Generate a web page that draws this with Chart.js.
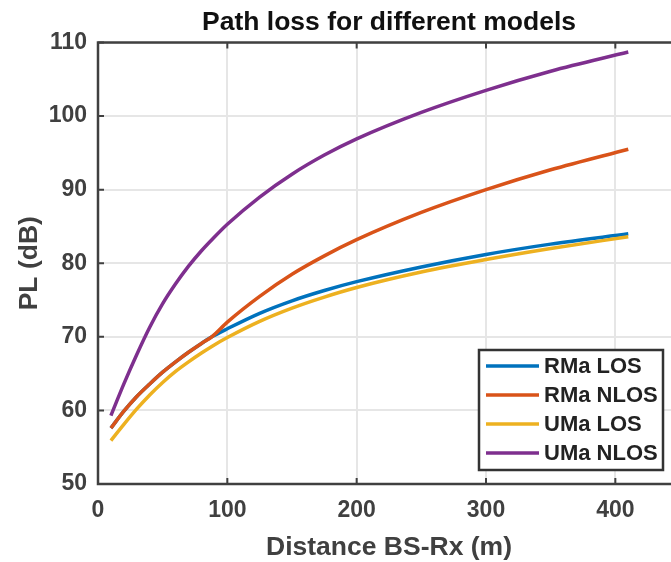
<!DOCTYPE html>
<html>
<head>
<meta charset="utf-8">
<script src="https://cdn.jsdelivr.net/npm/chart.js@4.4.1/dist/chart.umd.min.js"></script>
<style>
  html, body { margin: 0; padding: 0; background: #fff; overflow: hidden; }
  #wrap { position: relative; width: 700px; height: 562px; }
</style>
</head>
<body>
<div id="wrap"><canvas id="plChart"></canvas></div>
<script>
// distance from the BS (m) and path loss (dB) for each model
const distance = [10, 20, 30, 40, 50, 60, 70, 80, 88, 100, 125, 150, 175, 200, 250, 300, 350, 410];
const rmaLos   = [57.6, 59.9, 61.9, 63.6, 65.2, 66.6, 67.9, 69.1, 70.0, 71.1, 73.2, 74.9, 76.3, 77.5, 79.5, 81.2, 82.6, 84.0];
const rmaNlos  = [57.6, 59.9, 61.9, 63.6, 65.2, 66.6, 67.9, 69.1, 70.0, 72.0, 75.5, 78.5, 81.0, 83.2, 86.9, 90.0, 92.7, 95.5];
const umaLos   = [55.9, 58.1, 60.2, 62.1, 63.8, 65.3, 66.6, 67.8, 68.7, 69.9, 72.1, 73.9, 75.4, 76.7, 78.8, 80.5, 82.0, 83.6];
const umaNlos  = [59.3, 63.6, 67.6, 71.3, 74.5, 77.2, 79.6, 81.7, 83.2, 85.3, 89.0, 92.1, 94.7, 96.9, 100.5, 103.5, 106.1, 108.7];

const seriesNames  = ['RMa LOS', 'RMa NLOS', 'UMa LOS', 'UMa NLOS'];
const seriesColors = ['#0072BD', '#D95319', '#EDB120', '#7E2F8E'];
const seriesValues = [rmaLos, rmaNlos, umaLos, umaNlos];

const xTicks = [0, 100, 200, 300, 400];
const yTicks = [50, 60, 70, 80, 90, 100, 110];

const axisInk = '#404040';
const fontFamily = '"Liberation Sans", Arial, Helvetica, sans-serif';

// axes box, inward tick marks, titles and the boxed legend (matlab look)
const matlabFrame = {
  id: 'matlabFrame',
  beforeDraw(chart) {
    const ctx = chart.ctx;
    ctx.save();
    ctx.fillStyle = '#fff';
    ctx.fillRect(0, 0, chart.width, chart.height);
    ctx.restore();
  },
  afterDraw(chart) {
    const { ctx, chartArea: a, scales: { x, y } } = chart;
    ctx.save();

    ctx.strokeStyle = axisInk;
    ctx.lineWidth = 2.5;
    ctx.beginPath();
    ctx.moveTo(a.right, a.top);
    ctx.lineTo(a.left, a.top);
    ctx.lineTo(a.left, a.bottom);
    ctx.lineTo(a.right, a.bottom);
    ctx.stroke();

    const tick = 6;
    ctx.lineWidth = 2;
    ctx.beginPath();
    x.ticks.forEach(t => {
      const px = x.getPixelForValue(t.value);
      ctx.moveTo(px, a.bottom); ctx.lineTo(px, a.bottom - tick);
      ctx.moveTo(px, a.top);    ctx.lineTo(px, a.top + tick);
    });
    y.ticks.forEach(t => {
      const py = y.getPixelForValue(t.value);
      ctx.moveTo(a.left, py); ctx.lineTo(a.left + tick, py);
    });
    ctx.stroke();

    // title
    const midX = (a.left + a.right) / 2;
    ctx.fillStyle = '#111';
    ctx.textAlign = 'center';
    ctx.textBaseline = 'alphabetic';
    ctx.font = 'bold 26.5px ' + fontFamily;
    ctx.fillText('Path loss for different models', midX, 30);

    // axis titles
    ctx.fillStyle = axisInk;
    ctx.fillText('Distance BS-Rx (m)', midX, 555);
    ctx.save();
    ctx.translate(37, (a.top + a.bottom) / 2);
    ctx.rotate(-Math.PI / 2);
    ctx.fillText('PL (dB)', 0, 0);
    ctx.restore();

    // legend
    const box = { left: 479, top: 350, right: 663, bottom: 470 };
    ctx.fillStyle = '#fff';
    ctx.fillRect(box.left, box.top, box.right - box.left, box.bottom - box.top);
    ctx.strokeStyle = '#333';
    ctx.lineWidth = 2.5;
    ctx.strokeRect(box.left, box.top, box.right - box.left, box.bottom - box.top);
    ctx.font = 'bold 22px ' + fontFamily;
    ctx.textAlign = 'left';
    ctx.textBaseline = 'middle';
    chart.data.datasets.forEach((ds, i) => {
      const ry = 366 + i * 29;
      ctx.strokeStyle = ds.borderColor;
      ctx.lineWidth = 3.5;
      ctx.beginPath();
      ctx.moveTo(486, ry); ctx.lineTo(539, ry);
      ctx.stroke();
      ctx.fillStyle = '#222';
      ctx.fillText(ds.label, 544, ry + 1);
    });

    ctx.restore();
  }
};

const plChart = new Chart(document.getElementById('plChart'), {
  type: 'line',
  data: {
    datasets: seriesValues.map((vals, i) => ({
      label: seriesNames[i],
      data: distance.map((d, k) => ({ x: d, y: vals[k] })),
      borderColor: seriesColors[i],
      backgroundColor: seriesColors[i],
      borderWidth: 3.5,
      pointRadius: 0,
      cubicInterpolationMode: 'monotone',
      order: seriesValues.length - i
    }))
  },
  options: {
    responsive: true,
    maintainAspectRatio: false,
    animation: false,
    layout: { padding: { top: 42.5, right: 20, left: 0, bottom: 0 } },
    plugins: {
      legend: { display: false },
      tooltip: { enabled: false }
    },
    scales: {
      x: {
        type: 'linear',
        min: 0,
        max: 450,
        afterBuildTicks: s => { s.ticks = xTicks.map(v => ({ value: v })); },
        afterFit: s => { s.height = 78; },
        grid: { color: '#e6e6e6', lineWidth: 2, drawTicks: false },
        border: { display: false },
        ticks: {
          padding: 13,
          color: axisInk,
          font: { family: fontFamily, size: 23, weight: 'bold' }
        }
      },
      y: {
        min: 50,
        max: 110,
        afterBuildTicks: s => { s.ticks = yTicks.map(v => ({ value: v })); },
        afterFit: s => { s.width = 98; },
        grid: { color: '#e6e6e6', lineWidth: 2, drawTicks: false },
        border: { display: false },
        ticks: {
          padding: 11,
          color: axisInk,
          font: { family: fontFamily, size: 23, weight: 'bold' }
        }
      }
    }
  },
  plugins: [matlabFrame]
});
</script>
</body>
</html>
